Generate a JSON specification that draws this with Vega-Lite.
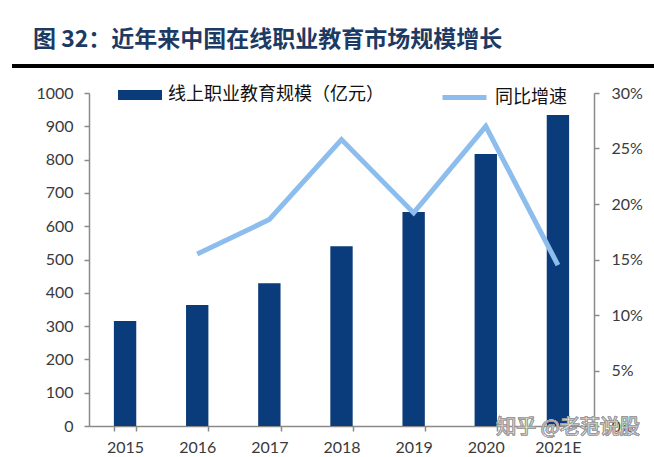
{
  "$schema": "https://vega.github.io/schema/vega-lite/v6.json",
  "width": 505,
  "height": 333,
  "autosize": {"type": "none"},
  "padding": {"left": 89, "top": 93, "right": 60, "bottom": 31},
  "background": "#ffffff",
  "title": {
    "text": "图  32：近年来中国在线职业教育市场规模增长",
    "anchor": "start",
    "frame": "group",
    "dx": -56,
    "offset": 13,
    "font": "Noto Sans CJK SC",
    "fontSize": 23,
    "fontWeight": "bold",
    "color": "#1c3a63"
  },
  "config": {
    "view": {"stroke": null},
    "axis": {
      "labelFont": "Lato",
      "labelFontSize": 16,
      "labelColor": "#3a3a3a",
      "domainColor": "#8a8a8a",
      "tickColor": "#8a8a8a",
      "domainWidth": 1.5,
      "tickWidth": 1.5,
      "tickSize": 5,
      "grid": false,
      "title": null
    },
    "legend": {
      "labelFont": "Noto Sans CJK SC",
      "labelFontSize": 18,
      "labelColor": "#111111",
      "labelLimit": 400,
      "title": null,
      "padding": 0
    }
  },
  "data": {
    "values": [
      {"year": "2015", "scale": 315, "growth": null},
      {"year": "2016", "scale": 363, "growth": 0.155},
      {"year": "2017", "scale": 429, "growth": 0.186},
      {"year": "2018", "scale": 540, "growth": 0.258},
      {"year": "2019", "scale": 643, "growth": 0.192},
      {"year": "2020", "scale": 817, "growth": 0.270},
      {"year": "2021E", "scale": 934, "growth": 0.145}
    ]
  },
  "encoding": {
    "x": {
      "field": "year",
      "type": "nominal",
      "sort": null,
      "scale": {"paddingInner": 0.69, "paddingOuter": 0.345},
      "axis": {"labelAngle": 0, "labelPadding": 8, "tickBand": "extent"}
    }
  },
  "layer": [
    {
      "mark": {"type": "bar"},
      "encoding": {
        "y": {
          "field": "scale",
          "type": "quantitative",
          "scale": {"domain": [0, 1000], "nice": false},
          "axis": {"orient": "left", "format": "d", "values": [0,100,200,300,400,500,600,700,800,900,1000], "labelPadding": 11}
        },
        "fill": {
          "datum": "线上职业教育规模（亿元）",
          "scale": {"range": ["#0a3b7a"]},
          "legend": {
            "orient": "none",
            "legendX": 29,
            "legendY": -20,
            "symbolType": "M-1,-0.23H1V0.23H-1Z",
            "symbolSize": 1936,
            "symbolStrokeWidth": 0,
            "labelOffset": 6
          }
        }
      }
    },
    {
      "transform": [{"filter": "datum.growth != null"}],
      "mark": {"type": "line", "strokeWidth": 5, "strokeCap": "butt", "strokeJoin": "miter"},
      "encoding": {
        "y": {
          "field": "growth",
          "type": "quantitative",
          "scale": {"domain": [0, 0.3], "nice": false},
          "axis": {"orient": "right", "format": ".0%", "values": [0,0.05,0.1,0.15,0.2,0.25,0.3], "labelPadding": 12}
        },
        "stroke": {
          "datum": "同比增速",
          "scale": {"range": ["#8dbdec"]},
          "legend": {
            "orient": "none",
            "legendX": 351,
            "legendY": -20,
            "symbolType": "stroke",
            "symbolSize": 1936,
            "symbolStrokeWidth": 5,
            "labelOffset": 6
          }
        }
      }
    },
    {
      "mark": {"type": "rule", "color": "#000000", "strokeWidth": 3},
      "encoding": {
        "x": {"value": -77},
        "x2": {"value": 565},
        "y": {"datum": 1081, "type": "quantitative", "scale": {"domain": [0, 1000], "nice": false}, "axis": null}
      }
    },
    {
      "mark": {"type": "text", "text": "知乎 @老范说股", "font": "Noto Sans CJK SC", "fontSize": 20, "fill": "#ffffff", "fillOpacity": 0.85, "stroke": "#9a9a9a", "strokeWidth": 0.8, "baseline": "middle", "align": "center", "dx": 10, "dy": 2},
      "encoding": {
        "x": {"datum": "2021E"},
        "y": {"datum": 0, "type": "quantitative", "scale": {"domain": [0, 1000], "nice": false}, "axis": null}
      }
    }
  ],
  "resolve": {"scale": {"y": "independent", "fill": "independent", "stroke": "independent"}}
}
